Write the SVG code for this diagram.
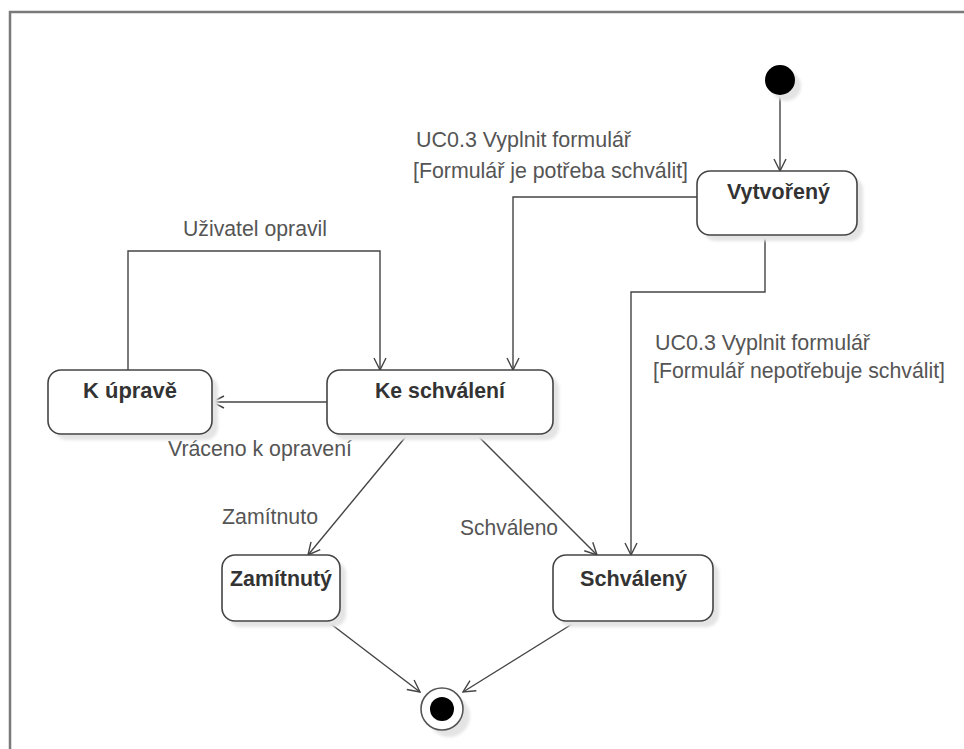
<svg xmlns="http://www.w3.org/2000/svg" width="964" height="749" viewBox="0 0 964 749">
  <style>
    .frame { fill: none; stroke: #7a7a7a; stroke-width: 2.5; }
    .state { fill: #ffffff; stroke: #444444; stroke-width: 1.6; }
    .shadow { fill: #e4e4e4; }
    .name { font-family: "Liberation Sans", Arial, sans-serif; font-size: 22px; font-weight: bold; fill: #333333; }
    .label { font-family: "Liberation Sans", Arial, sans-serif; font-size: 22px; fill: #555555; }
    .edge { fill: none; stroke: #444444; stroke-width: 1.4; }
  </style>
  <defs>
    <marker id="open-arrow" viewBox="0 0 14 14" refX="13" refY="7" markerWidth="14" markerHeight="14" markerUnits="userSpaceOnUse" orient="auto">
      <path d="M1,1 L13,7 L1,13" fill="none" stroke="#444444" stroke-width="1.4"/>
    </marker>
    <filter id="soft" x="-10%" y="-10%" width="130%" height="130%">
      <feGaussianBlur stdDeviation="1.5"/>
    </filter>
  </defs>

  <rect width="964" height="749" fill="#ffffff"/>
  <!-- diagram frame -->
  <path class="frame" d="M10,749 L10,12 L964,12"/>

  <!-- connectors -->
  <g id="connectors">
    <line class="edge" x1="780" y1="95" x2="780" y2="171" marker-end="url(#open-arrow)"/>
    <polyline class="edge" points="697,197 513,197 513,370" marker-end="url(#open-arrow)"/>
    <polyline class="edge" points="765,235 765,292 631,292 631,555" marker-end="url(#open-arrow)"/>
    <polyline class="edge" points="128,370 128,251 380,251 380,370" marker-end="url(#open-arrow)"/>
    <line class="edge" x1="327" y1="402" x2="212" y2="402" marker-end="url(#open-arrow)"/>
    <line class="edge" x1="408" y1="434" x2="308" y2="555" marker-end="url(#open-arrow)"/>
    <line class="edge" x1="476" y1="434" x2="597" y2="555" marker-end="url(#open-arrow)"/>
    <line class="edge" x1="327" y1="621" x2="420" y2="692" marker-end="url(#open-arrow)"/>
    <line class="edge" x1="577" y1="621" x2="463" y2="692" marker-end="url(#open-arrow)"/>

    <text class="label" x="416" y="147" textLength="215" lengthAdjust="spacingAndGlyphs">UC0.3 Vyplnit formulář</text>
    <text class="label" x="413" y="178" textLength="275" lengthAdjust="spacingAndGlyphs">[Formulář je potřeba schválit]</text>
    <text class="label" x="655" y="350" textLength="215" lengthAdjust="spacingAndGlyphs">UC0.3 Vyplnit formulář</text>
    <text class="label" x="653" y="378" textLength="292" lengthAdjust="spacingAndGlyphs">[Formulář nepotřebuje schválit]</text>
    <text class="label" x="183" y="236" textLength="144" lengthAdjust="spacingAndGlyphs">Uživatel opravil</text>
    <text class="label" x="168" y="456" textLength="184" lengthAdjust="spacingAndGlyphs">Vráceno k opravení</text>
    <text class="label" x="222" y="524" textLength="96" lengthAdjust="spacingAndGlyphs">Zamítnuto</text>
    <text class="label" x="460" y="535" textLength="98" lengthAdjust="spacingAndGlyphs">Schváleno</text>
  </g>

  <!-- initial pseudo-state -->
  <g id="initial">
    <circle class="shadow" cx="786" cy="86" r="15" filter="url(#soft)"/>
    <circle cx="780" cy="80" r="15" fill="#000000"/>
  </g>

  <g id="vytvoreny">
    <rect class="shadow" x="703" y="177" width="160" height="64" rx="13" filter="url(#soft)"/>
    <rect class="state" x="697" y="171" width="160" height="64" rx="13"/>
    <text class="name" x="727" y="199" textLength="103" lengthAdjust="spacingAndGlyphs">Vytvořený</text>
  </g>

  <g id="k-uprave">
    <rect class="shadow" x="54" y="376" width="164" height="64" rx="13" filter="url(#soft)"/>
    <rect class="state" x="48" y="370" width="164" height="64" rx="13"/>
    <text class="name" x="83" y="398" textLength="94" lengthAdjust="spacingAndGlyphs">K úpravě</text>
  </g>

  <g id="ke-schvaleni">
    <rect class="shadow" x="333" y="376" width="226" height="64" rx="13" filter="url(#soft)"/>
    <rect class="state" x="327" y="370" width="226" height="64" rx="13"/>
    <text class="name" x="375" y="398" textLength="130" lengthAdjust="spacingAndGlyphs">Ke schválení</text>
  </g>

  <g id="zamitnuty">
    <rect class="shadow" x="228" y="561" width="118" height="66" rx="13" filter="url(#soft)"/>
    <rect class="state" x="222" y="555" width="118" height="66" rx="13"/>
    <text class="name" x="230" y="586" textLength="102" lengthAdjust="spacingAndGlyphs">Zamítnutý</text>
  </g>

  <g id="schvaleny">
    <rect class="shadow" x="559" y="561" width="160" height="66" rx="13" filter="url(#soft)"/>
    <rect class="state" x="553" y="555" width="160" height="66" rx="13"/>
    <text class="name" x="580" y="586" textLength="107" lengthAdjust="spacingAndGlyphs">Schválený</text>
  </g>

  <!-- final state -->
  <g id="final">
    <circle class="shadow" cx="449" cy="716" r="21" filter="url(#soft)"/>
    <circle cx="442" cy="709" r="21" fill="#ffffff" stroke="#555555" stroke-width="1.6"/>
    <circle cx="442" cy="709" r="12" fill="#000000"/>
  </g>
</svg>
